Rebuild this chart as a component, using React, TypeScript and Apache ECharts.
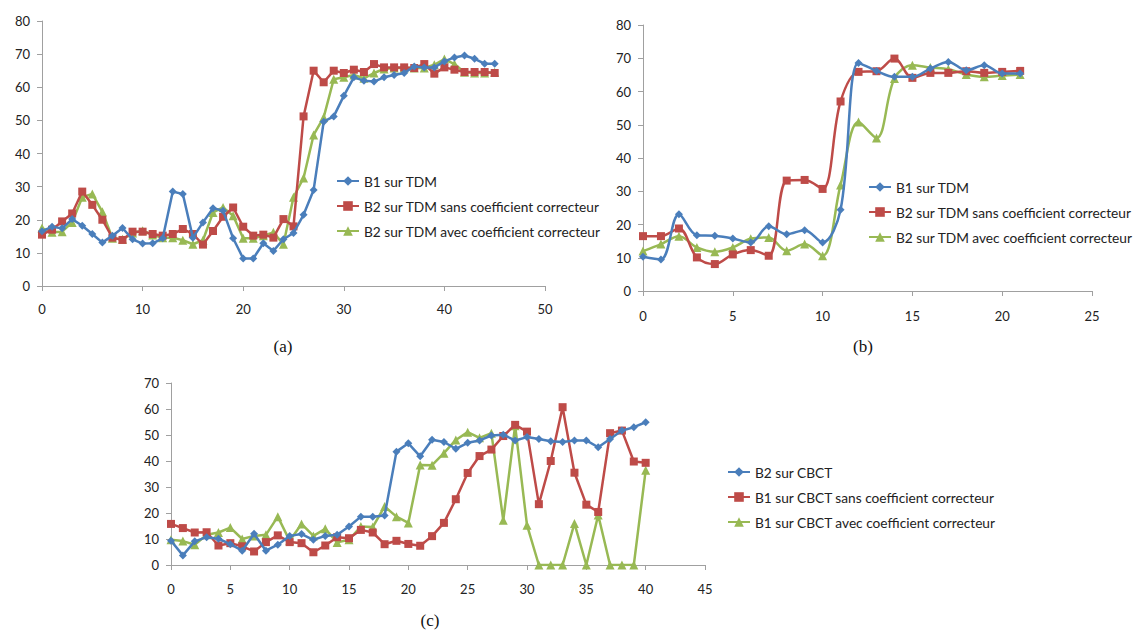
import React, { useEffect, useRef } from "react";
import * as echarts from "echarts";

// Panel (a)
const aB1 = [16.5,17.9,17.4,20.2,18.2,15.7,13.1,15.2,17.5,14.1,12.8,12.9,14.4,28.5,27.8,14.6,19.2,23.5,22.7,14.4,8.3,8.3,12.9,10.6,14.1,16,21.5,29,49.6,51.2,57.4,63,62,61.7,63,63.7,64.3,66.3,66,66,67.8,69,69.6,68.6,67.1,67.1];
const aB2sans = [15.5,17,19.5,21.9,28.5,24.5,20,14.6,13.9,16.4,16.4,15.7,15.2,15.7,17.2,15.7,12.5,16.6,20.9,23.7,17.9,15.2,15.5,14.6,20.2,18,51.2,65,61.5,65,64.3,65.3,64.6,67,66,66,66,65.8,67,64.1,66,65.3,64.6,64.6,64.6,64.3];
const aB2avec = [17.5,16.2,16.4,19.2,26.8,27.8,22.4,14.4,14.1,16,16.7,15.4,14.6,14.6,13.8,12.6,13.8,22.2,23.7,21.2,14.4,14.4,15.2,16.2,12.6,26.8,32.6,45.6,50.9,62.4,63,63.7,62.7,64.3,65.5,65.8,65.8,65.8,65.8,66.8,68.5,67,64.5,64.3,64.3,64.5];

// Panel (b)
const bB1 = [10.3,9.5,23.1,16.8,16.6,15.8,14.6,19.5,17.1,18.3,14.6,24.4,68.6,66.2,64.4,64.4,66.9,68.9,66.4,67.9,65.4,65.4];
const bB2sans = [16.5,16.5,18.8,10.1,8.1,11,12.3,10.6,33.2,33.4,30.7,57,65.9,66.1,69.9,64.1,65.6,65.6,66.1,65.6,65.9,66.2];
const bB2avec = [12,14.1,16.5,13.1,11.8,13.1,15.7,16.1,12.1,14.1,10.6,31.9,50.8,46,63.9,67.9,67.2,66.7,65.1,64.4,64.8,65.1];

// Panel (c)
const cB2 = [9.3,3.7,9.1,10.7,10.1,8.0,5.5,12.0,5.5,7.8,11.2,11.9,9.7,11.2,11.6,14.8,18.6,18.6,19.0,43.6,46.8,41.8,48.2,47.3,44.7,47.0,47.9,49.8,50.1,47.9,49.2,48.5,47.6,47.3,47.9,47.9,45.3,48.5,51.7,53.0,54.9];
const cB1sans = [15.8,14.2,12.5,12.6,7.5,8.4,7.2,5.2,8.8,11.4,8.8,8.4,4.9,7.5,10.7,10.3,13.5,12.5,8.0,9.3,8.1,7.4,11.1,16.2,25.3,35.4,41.9,44.4,49.6,53.9,51.3,23.4,40.0,60.7,35.5,23.2,20.4,50.7,51.7,39.8,39.3];
const cB1avec = [9.7,9.2,7.8,11.6,12.5,14.4,10.0,11.2,11.6,18.6,9.3,15.8,11.2,13.9,8.7,9.7,14.8,14.6,22.5,18.6,16.2,38.5,38.4,43.0,48.1,51.1,48.9,50.7,17.2,53.6,15.3,0,0,0,16.0,0,19.2,0,0,0,36.4];

const namesTDM = ["B1 sur TDM", "B2 sur TDM sans coefficient correcteur", "B2 sur TDM avec coefficient correcteur"];
const namesCBCT = ["B2 sur CBCT", "B1 sur CBCT sans coefficient correcteur", "B1 sur CBCT avec coefficient correcteur"];
const captions = ["(a)", "(b)", "(c)"];

const BLUE = "#4a7ebb";
const RED = "#be4b48";
const GREEN = "#98b954";
const AXIS = "#a0a0a0";
const FONT = "Lato";

const toPairs = (arr: number[]) => arr.map((v, i) => [i, v]);

export default function App() {
  const ref = useRef<HTMLDivElement>(null);
  useEffect(() => {
    const chart = echarts.init(ref.current!, null, { renderer: "svg" });
    const styles = [
      { color: BLUE, symbol: "diamond", symbolSize: 8 },
      { color: RED, symbol: "rect", symbolSize: 8 },
      { color: GREEN, symbol: "triangle", symbolSize: 9 },
    ];
    const mkSeries = (names: string[], datas: number[][], gi: number, smooth: number | boolean) =>
      datas.map((d, k) => ({
        type: "line",
        name: names[k],
        xAxisIndex: gi,
        yAxisIndex: gi,
        data: toPairs(d),
        smooth,
        symbol: styles[k].symbol,
        symbolSize: styles[k].symbolSize,
        showAllSymbol: true,
        itemStyle: { color: styles[k].color },
        lineStyle: { color: styles[k].color, width: 2.5 },
        z: 3 - k,
      }));

    const xAx = (gi: number, max: number, interval: number, margin: number) => ({
      type: "value",
      gridIndex: gi,
      min: 0,
      max,
      interval,
      splitLine: { show: false },
      axisLine: { show: true, onZero: false, lineStyle: { color: AXIS, width: 1 } },
      axisTick: { show: true, length: 5, lineStyle: { color: AXIS } },
      axisLabel: { color: "#222", fontFamily: FONT, fontSize: 13, margin },
    });
    const yAx = (gi: number, max: number) => ({
      type: "value",
      gridIndex: gi,
      min: 0,
      max,
      interval: 10,
      splitLine: { show: false },
      axisLine: { show: true, onZero: false, lineStyle: { color: AXIS, width: 1 } },
      axisTick: { show: true, length: 5, lineStyle: { color: AXIS } },
      axisLabel: { color: "#222", fontFamily: FONT, fontSize: 13, margin: 12 },
    });
    const legend = (names: string[], left: number, top: number) => ({
      data: names,
      orient: "vertical",
      left,
      top,
      padding: 0,
      itemWidth: 22,
      itemHeight: 12,
      itemGap: 11,
      selectedMode: false,
      textStyle: { fontFamily: FONT, fontSize: 13.7, color: "#222" },
    });

    chart.setOption({
      animation: false,
      backgroundColor: "#ffffff",
      grid: [
        { left: 42, top: 21, right: 588, bottom: 344 },
        { left: 643, top: 25, right: 41, bottom: 339 },
        { left: 171, top: 383, right: 428, bottom: 65 },
      ],
      xAxis: [xAx(0, 50, 10, 16), xAx(1, 25, 5, 18), xAx(2, 45, 5, 17)],
      yAxis: [yAx(0, 80), yAx(1, 80), yAx(2, 70)],
      legend: [legend(namesTDM, 336, 174), legend(namesTDM, 868, 180), legend(namesCBCT, 727, 465)],
      series: [
        ...mkSeries(namesTDM, [aB1, aB2sans, aB2avec], 0, false),
        ...mkSeries(namesTDM, [bB1, bB2sans, bB2avec], 1, 0.35),
        ...mkSeries(namesCBCT, [cB2, cB1sans, cB1avec], 2, false),
      ],
      graphic: [
        { type: "text", x: 283, y: 346, style: { text: captions[0], font: "17px 'Liberation Serif'", fill: "#111", textAlign: "center", textVerticalAlign: "middle" } },
        { type: "text", x: 863, y: 346, style: { text: captions[1], font: "17px 'Liberation Serif'", fill: "#111", textAlign: "center", textVerticalAlign: "middle" } },
        { type: "text", x: 430, y: 620, style: { text: captions[2], font: "17px 'Liberation Serif'", fill: "#111", textAlign: "center", textVerticalAlign: "middle" } },
      ],
    });
    return () => chart.dispose();
  }, []);
  return <div ref={ref} style={{ position: "absolute", left: 0, top: 0, width: 1133, height: 630 }} />;
}
